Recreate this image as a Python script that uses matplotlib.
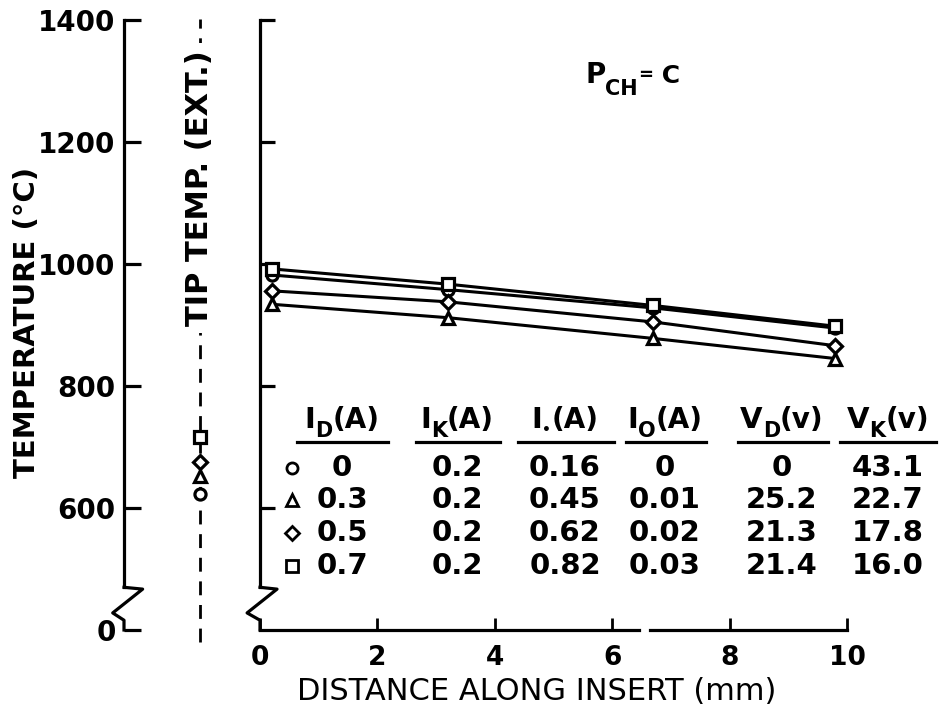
import matplotlib.pyplot as plt
from matplotlib.lines import Line2D

plt.rcParams['font.family'] = ['DejaVu Sans']
plt.rcParams['mathtext.fontset'] = 'dejavusans'

# distance along insert (mm)
dist = [0.2, 3.2, 6.7, 9.8]
# temperature (C) for each discharge current I_D
t_id0 = [982, 958, 928, 895]    # circle, ID=0
t_id3 = [934, 912, 878, 845]    # triangle, ID=0.3
t_id5 = [956, 938, 905, 866]    # diamond, ID=0.5
t_id7 = [992, 967, 932, 898]    # square, ID=0.7
series = [t_id0, t_id3, t_id5, t_id7]
marks = ['o', '^', 'D', 's']
msizes = [8, 9, 7.5, 8]
# tip temp (ext.) for the same runs
tip_temp = [623, 652, 675, 716]

yticks = [400, 600, 800, 1000, 1200, 1400]
ylabels = ['0', '600', '800', '1000', '1200', '1400']
xticks = [0, 2, 4, 6, 8, 10]
xlabels = ['0', '2', '4', '6', '8', '10']

# table: header = (letter, subscript, unit)
heads = [('I', 'D', '(A)'), ('I', 'K', '(A)'), ('I', '•', '(A)'),
         ('I', 'O', '(A)'), ('V', 'D', '(v)'), ('V', 'K', '(v)')]
col_id = ['0', '0.3', '0.5', '0.7']
col_ik = ['0.2', '0.2', '0.2', '0.2']
col_ie = ['0.16', '0.45', '0.62', '0.82']
col_io = ['0', '0.01', '0.02', '0.03']
col_vd = ['0', '25.2', '21.3', '21.4']
col_vk = ['43.1', '22.7', '17.8', '16.0']
cols = [col_id, col_ik, col_ie, col_io, col_vd, col_vk]

W, H = 940, 714
def fx(px):
    return px / W
def fy(py):
    return 1 - py / H

fig = plt.figure(figsize=(9.4, 7.14), dpi=100)
renderer = fig.canvas.get_renderer()
B = fy(630)
HT = (630 - 20) / H
LW = 2.3

def rich(x, ybase, pieces, ha='center'):
    # pieces: (text, fontsize, drop in px)
    tt = []
    for s, size, dy in pieces:
        t = fig.text(0, 0, s, fontsize=size, fontweight='bold', va='baseline')
        tt.append((t, dy))
    ws = [t.get_window_extent(renderer).width for t, _ in tt]
    x0 = x - sum(ws) / 2 if ha == 'center' else x
    for (t, dy), w in zip(tt, ws):
        t.set_position((fx(x0), fy(ybase + dy)))
        x0 += w

# main axes
ax = fig.add_axes([fx(260), B, 587 / W, HT])
ax.patch.set_visible(False)
ax.set_xlim(0, 10)
ax.set_ylim(400, 1400)
for s in ['top', 'right', 'bottom']:
    ax.spines[s].set_visible(False)
ax.spines['left'].set_bounds(470, 1400)
ax.spines['left'].set_linewidth(LW)
ax.set_yticks(yticks[1:])
ax.set_yticklabels([])
ax.tick_params(axis='y', direction='in', length=11, width=LW)
ax.set_xticks(xticks)
ax.set_xticklabels(xlabels, fontsize=19, fontweight='bold')
ax.tick_params(axis='x', direction='in', length=9, width=2, pad=11)
# broken bottom axis
ax.plot([0, 6.45], [400, 400], 'k', lw=LW, clip_on=False)
ax.plot([6.65, 10], [400, 400], 'k', lw=LW, clip_on=False)
# break on y axis
ax.plot([0, 0.29, -0.22, 0, 0], [470, 467, 428, 416, 400], 'k', lw=LW, clip_on=False)

for t, m, ms in zip(series, marks, msizes):
    ax.plot(dist, t, color='k', lw=2.2, marker=m, ms=ms, mfc='white', mec='k', mew=2.3, clip_on=False)

rich(585, 83, [('P', 20, 0), ('CH', 15, 12), ('=', 13, -3), (' C', 18, 0)], ha='left')

fig.text(fx(537), fy(692), 'DISTANCE ALONG INSERT (mm)', fontsize=22, ha='center', va='center')

# left temperature scale
axl = fig.add_axes([fx(124), B, 0.06, HT])
axl.patch.set_visible(False)
axl.set_xlim(0, 1)
axl.set_ylim(400, 1400)
for s in ['top', 'right', 'bottom']:
    axl.spines[s].set_visible(False)
axl.spines['left'].set_bounds(470, 1400)
axl.spines['left'].set_linewidth(LW)
axl.set_xticks([])
axl.set_yticks(yticks)
axl.set_yticklabels(ylabels, fontsize=20, fontweight='bold')
axl.tick_params(axis='y', direction='in', length=12, width=LW, pad=6)
axl.plot([0, 0.33, -0.2, 0, 0], [470, 467, 428, 416, 400], 'k', lw=LW, clip_on=False)
fig.text(fx(27), fy(322), 'TEMPERATURE (°C)', rotation=90, fontsize=21, fontweight='bold',
         ha='center', va='center')

# tip temperature column
axt = fig.add_axes([fx(170), B, 60 / W, HT])
axt.set_xlim(-1, 1)
axt.set_ylim(400, 1400)
axt.axis('off')
axt.plot([0, 0], [380, 1402], color='k', lw=2, dashes=(5, 3.5), clip_on=False)
axt.text(0, 1125, 'TIP TEMP. (EXT.)', rotation=90, fontsize=22, fontweight='bold',
         ha='center', va='center', bbox=dict(fc='white', ec='none', pad=5))
for t, m, ms in zip(tip_temp, marks, msizes):
    axt.plot([0], [t], marker=m, ms=ms, mfc='white', mec='k', mew=2.3, clip_on=False, zorder=5)

# table
col_x = [342, 457, 565, 665, 782, 888]
ul = [(297, 388), (416, 500), (518, 614), (626, 706), (738, 828), (840, 936)]
row_y = [468, 500, 533, 566]
for cx, (a0, sub, unit), (a, b), vals in zip(col_x, heads, ul, cols):
    sub_size = 10 if sub == '•' else 15
    sub_dy = 6 if sub == '•' else 9
    rich(cx, 428, [(a0, 21, 0), (sub, sub_size, sub_dy), (unit, 20, 0)])
    fig.add_artist(Line2D([fx(a), fx(b)], [fy(442), fy(442)], color='k', lw=2.3))
    for ry, v in zip(row_y, vals):
        fig.text(fx(cx), fy(ry), v, fontsize=21, fontweight='bold', ha='center', va='center')
for ry, m, ms in zip(row_y, marks, msizes):
    fig.add_artist(Line2D([fx(292)], [fy(ry)], marker=m, ms=ms, mfc='white', mec='k', mew=2))

fig.savefig('out.png', dpi=100, facecolor='white')
